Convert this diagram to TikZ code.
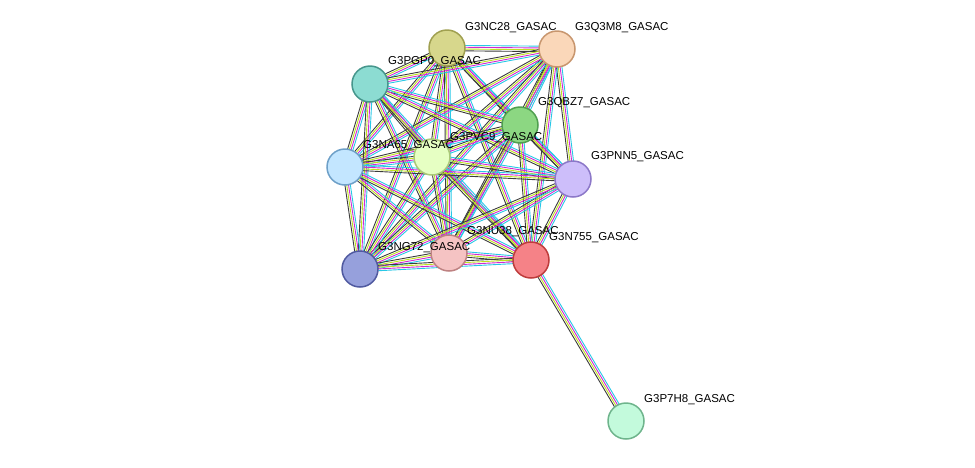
\documentclass[tikz,border=0pt]{standalone}
\usepackage{fontspec}
\setmainfont{Liberation Sans}
\usetikzlibrary{calc}
\definecolor{edgecyan}{RGB}{40,200,230}
\definecolor{edgemag}{RGB}{210,40,210}
\definecolor{edgelime}{RGB}{190,225,30}
\definecolor{edgedark}{RGB}{60,60,60}

% edge bundle between two nodes
\newcommand{\bundle}[2]{%
    \draw[link, edgecyan] ($(#1)!2.7pt!90:(#2)$) -- ($(#2)!2.7pt!-90:(#1)$);
    \draw[link, edgemag] ($(#1)!0.9pt!90:(#2)$) -- ($(#2)!0.9pt!-90:(#1)$);
    \draw[link, edgelime] ($(#1)!-0.9pt!90:(#2)$) -- ($(#2)!-0.9pt!-90:(#1)$);
    \draw[link, edgedark] ($(#1)!-2.7pt!90:(#2)$) -- ($(#2)!-2.7pt!-90:(#1)$);}

\begin{document}
\begin{tikzpicture}[x=1pt, y=-1pt]
    \tikzstyle{protein} = [circle, minimum size=36pt, inner sep=0pt, line width=1.5pt]
    \tikzstyle{plabel} = [anchor=west, inner sep=0pt, font=\fontsize{11.5}{13}\selectfont]
    \tikzstyle{link} = [line width=0.9pt]
    \useasboundingbox (0,0) rectangle (975,467);

    \coordinate (nc28) at (447,48);
    \coordinate (q3m8) at (557,49);
    \coordinate (pgp0) at (370,84);
    \coordinate (qbz7) at (520,125);
    \coordinate (pvc9) at (432,157);
    \coordinate (na65) at (345,167);
    \coordinate (pnn5) at (573,179);
    \coordinate (nu38) at (449,253);
    \coordinate (n755) at (531,260);
    \coordinate (ng72) at (360,269);
    \coordinate (p7h8) at (626,421);

    \foreach \a [count=\i] in {nc28,q3m8,pgp0,qbz7,pvc9,na65,pnn5,nu38,n755,ng72}
        \foreach \b [count=\j] in {nc28,q3m8,pgp0,qbz7,pvc9,na65,pnn5,nu38,n755,ng72}
            {\ifnum\j>\i \bundle{\a}{\b}\fi}
    \bundle{n755}{p7h8}

    \node[protein, draw={rgb,255:red,160;green,160;blue,80}, fill={rgb,255:red,215;green,215;blue,140}] (NC28) at (nc28) {};
    \node[protein, draw={rgb,255:red,200;green,150;blue,110}, fill={rgb,255:red,250;green,215;blue,185}] (Q3M8) at (q3m8) {};
    \node[protein, draw={rgb,255:red,70;green,150;blue,140}, fill={rgb,255:red,140;green,220;blue,210}] (PGP0) at (pgp0) {};
    \node[protein, draw={rgb,255:red,80;green,160;blue,80}, fill={rgb,255:red,140;green,215;blue,130}] (QBZ7) at (qbz7) {};
    \node[protein, draw={rgb,255:red,170;green,200;blue,120}, fill={rgb,255:red,230;green,255;blue,195}] (PVC9) at (pvc9) {};
    \node[protein, draw={rgb,255:red,110;green,160;blue,200}, fill={rgb,255:red,195;green,230;blue,255}] (NA65) at (na65) {};
    \node[protein, draw={rgb,255:red,140;green,120;blue,200}, fill={rgb,255:red,205;green,190;blue,250}] (PNN5) at (pnn5) {};
    \node[protein, draw={rgb,255:red,190;green,130;blue,130}, fill={rgb,255:red,245;green,195;blue,195}] (NU38) at (nu38) {};
    \node[protein, draw={rgb,255:red,190;green,60;blue,60}, fill={rgb,255:red,245;green,130;blue,135}] (N755) at (n755) {};
    \node[protein, draw={rgb,255:red,80;green,90;blue,160}, fill={rgb,255:red,150;green,160;blue,220}] (NG72) at (ng72) {};
    \node[protein, draw={rgb,255:red,110;green,180;blue,140}, fill={rgb,255:red,195;green,250;blue,220}] (P7H8) at (p7h8) {};

    \node[plabel] (lNC28) at (465,28) {G3NC28\_GASAC};
    \node[plabel] (lQ3M8) at (575,28) {G3Q3M8\_GASAC};
    \node[plabel] (lPGP0) at (388,62) {G3PGP0\_GASAC};
    \node[plabel] (lQBZ7) at (538,103) {G3QBZ7\_GASAC};
    \node[plabel] (lPVC9) at (450,138) {G3PVC9\_GASAC};
    \node[plabel] (lNA65) at (363,146) {G3NA65\_GASAC};
    \node[plabel] (lPNN5) at (591,157) {G3PNN5\_GASAC};
    \node[plabel] (lNU38) at (467,232) {G3NU38\_GASAC};
    \node[plabel] (lN755) at (549,238) {G3N755\_GASAC};
    \node[plabel] (lNG72) at (378,248) {G3NG72\_GASAC};
    \node[plabel] (lP7H8) at (644,400) {G3P7H8\_GASAC};
\end{tikzpicture}
\end{document}
